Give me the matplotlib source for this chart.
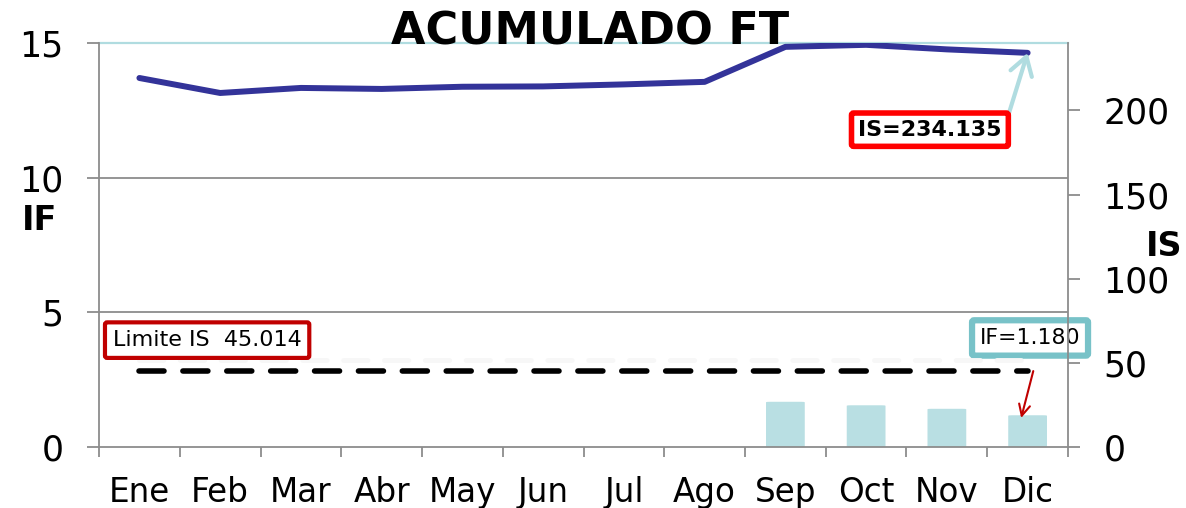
import matplotlib
matplotlib.use("Agg")
import matplotlib.pyplot as plt
from matplotlib.patches import FancyBboxPatch

months = ["Ene", "Feb", "Mar", "Abr", "May", "Jun", "Jul", "Ago", "Sep", "Oct", "Nov", "Dic"]
is_values = [219.2, 210.3, 213.3, 212.7, 214.0, 214.2, 215.4, 216.9, 237.7, 238.9, 236.2, 234.135]
if_values = [0, 0, 0, 0, 0, 0, 0, 0, 1.68, 1.55, 1.42, 1.18]
is_limit = 45.014
if_last = 1.180
is_last = 234.135

plt.rcParams['font.family'] = ['DejaVu Sans']

fig = plt.figure(figsize=(11.86, 5.08), dpi=100)
ax = fig.add_axes([0.0835, 0.12, 0.8170, 0.7954])
ax2 = ax.twinx()

x = list(range(len(months)))
grey = "#8C8C8C"
bar_col = "#B9DFE3"

# IF bars (left axis) with slightly rounded corners
for xi, v in zip(x, if_values):
    if v > 0:
        ax.add_patch(FancyBboxPatch((xi - 0.24, 0), 0.48, v,
                                    boxstyle="round,pad=0,rounding_size=0.05",
                                    mutation_aspect=1 / 3.0,
                                    facecolor=bar_col, edgecolor="none", zorder=2))

ax.set_xlim(-0.5, 11.5)
ax.set_ylim(0, 15)
ax.set_yticks([0, 5, 10, 15])
ax.set_yticklabels(["0", "5", "10", "15"])
for yv in (5, 10):
    ax.axhline(yv, color=grey, lw=1.3, zorder=1)
ax.axhline(15, color="#B0DCE0", lw=1.6, zorder=1, clip_on=False)

ax.set_xticks([i - 0.5 for i in range(13)])
ax.set_xticklabels([])
ax.set_xticks(x, minor=True)
ax.set_xticklabels(months, minor=True)
ax.tick_params(axis="x", which="major", length=7.2, width=1.3, color=grey, direction="out")
ax.tick_params(axis="x", which="minor", length=0, pad=21, labelsize=23.5)
ax.tick_params(axis="y", length=8.6, width=1.3, color=grey, labelsize=25, pad=17)

for s in ("top",):
    ax.spines[s].set_visible(False)
    ax2.spines[s].set_visible(False)
for s in ("left", "bottom"):
    ax.spines[s].set_color(grey)
    ax.spines[s].set_linewidth(1.3)
ax2.spines["right"].set_color(grey)
ax2.spines["right"].set_linewidth(1.3)
ax.spines["right"].set_visible(False)
ax2.spines["left"].set_visible(False)
ax2.spines["bottom"].set_visible(False)

# IS series and limit (right axis)
ax2.set_ylim(0, 240)
ax2.set_yticks([0, 50, 100, 150, 200])
ax2.tick_params(axis="y", length=8.6, width=1.3, color=grey, labelsize=25, pad=17)
ax2.plot(x, [is_limit + 6.5] * len(x), color="#F7F7F7", lw=3.5, dashes=(5, 3.4),
         dash_capstyle="round", zorder=2)
ax2.plot(x, [is_limit] * len(x), color="black", lw=4, dashes=(4.5, 3.4),
         dash_capstyle="round", zorder=3)
ax2.plot(x, is_values, color="#333399", lw=4.3, solid_capstyle="round", zorder=4)

fig.text(0.033, 1 - 221 / 508, "IF", ha="center", va="center",
         fontsize=24, fontweight="bold")
fig.text(0.9815, 1 - 246 / 508, "IS", ha="center", va="center",
         fontsize=24, fontweight="bold")

fig.text(0.4975, 1 - 32 / 508, "ACUMULADO FT", ha="center", va="center",
         fontsize=32, fontweight="bold")

# IS annotation
ax2.annotate(f"IS={is_last:.3f}", xy=(11, is_last), xytext=(9.79, 188.5),
             ha="center", va="center", fontsize=16, fontweight="bold",
             bbox=dict(boxstyle="round,pad=0.3,rounding_size=0.1", fc="white",
                       ec="#FF0000", lw=4),
             arrowprops=dict(arrowstyle="->,head_length=0.8,head_width=0.5",
                             color="#B0DCE0", lw=3, relpos=(1, 0.15),
                             shrinkA=0, shrinkB=0),
             zorder=6)

# Limit label
ax2.text(-0.33, 63.5, f"Limite IS  {is_limit:.3f}", ha="left", va="center", fontsize=16,
         bbox=dict(boxstyle="round,pad=0.35,rounding_size=0.1", fc="white",
                   ec="#C00000", lw=3), zorder=6)

# IF annotation
ax.text(11.03, 4.05, f"IF={if_last:.3f}", ha="center", va="center", fontsize=15.8,
        bbox=dict(boxstyle="round,pad=0.35,rounding_size=0.1", fc="white",
                  ec="#78C2C8", lw=4.5),
        zorder=6, clip_on=False)
ax.annotate("", xy=(10.92, 1.08), xytext=(11.07, 2.82),
            arrowprops=dict(arrowstyle="->,head_length=0.8,head_width=0.4",
                            color="#C00000", lw=1.5, shrinkA=0, shrinkB=0),
            zorder=6, annotation_clip=False)

fig.savefig("out.png", dpi=100)
